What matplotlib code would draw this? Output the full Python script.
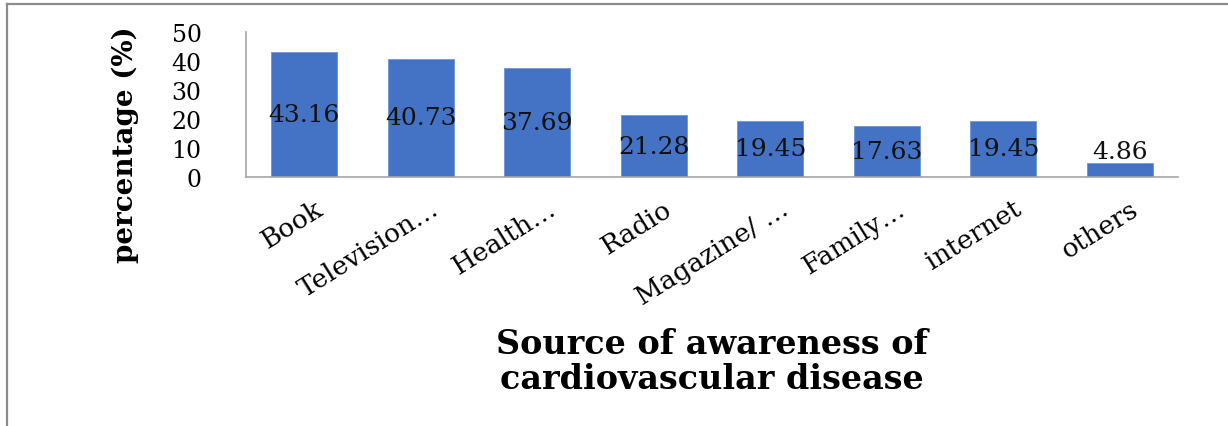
import matplotlib
matplotlib.use("Agg")
import matplotlib.pyplot as plt
import matplotlib.transforms as mtransforms
from matplotlib.lines import Line2D

categories = ["Book", "Television…", "Health…", "Radio", "Magazine/ …",
              "Family…", "internet", "others"]
values = [43.16, 40.73, 37.69, 21.28, 19.45, 17.63, 19.45, 4.86]
value_labels = ["43.16", "40.73", "37.69", "21.28", "19.45", "17.63", "19.45", "4.86"]
y_ticks = [0, 10, 20, 30, 40, 50]

FONT = "DejaVu Serif"
plt.rcParams["font.family"] = [FONT, "DejaVu Sans"]

W, H = 1228, 427
fig = plt.figure(figsize=(W / 100, H / 100), dpi=100)
ax = fig.add_axes([246 / W, 1 - 178 / H, (1178 - 246) / W, (178 - 33) / H])

x = list(range(len(categories)))
ax.bar(x, values, width=0.57, color="#4472C4", edgecolor="#6E93D6", linewidth=0.6, zorder=2)

for xi, v, lab in zip(x, values, value_labels):
    ypos = v / 2 if v > 8 else v + 4
    ax.text(xi, ypos, lab, ha="center", va="center",
            fontsize=18, color="#111111", zorder=3)

ax.set_xlim(-0.5, len(categories) - 0.5)
ax.set_ylim(0, 50)
ax.set_yticks(y_ticks)
ax.set_yticklabels([str(t) for t in y_ticks], fontsize=17)
ax.tick_params(axis="y", length=0, pad=32)
ax.set_xticks(x)
ax.set_xticklabels(categories, fontsize=19, rotation=32, ha="right",
                   rotation_mode="anchor", va="center")
ax.tick_params(axis="x", length=0, pad=21)
offset = mtransforms.ScaledTranslation(16 / 100, 0, fig.dpi_scale_trans)
for lbl in ax.get_xticklabels():
    lbl.set_transform(lbl.get_transform() + offset)

for s in ["top", "right"]:
    ax.spines[s].set_visible(False)
for s in ["left", "bottom"]:
    ax.spines[s].set_color("#A6A6A6")
    ax.spines[s].set_linewidth(1.2)

ax.set_ylabel("percentage (%)", fontsize=20, fontweight="bold")
ax.yaxis.label.set_va("center")
ax.yaxis.set_label_coords((125 - 246) / (1178 - 246), (178 - 145) / 145)

ax.set_xlabel("Source of awareness of\ncardiovascular disease", fontsize=24,
              fontweight="bold", linespacing=1.05)
ax.xaxis.label.set_va("center")
ax.xaxis.set_label_coords(0.5, (178 - 362) / 145)

# figure border (left and top visible)
fig.add_artist(Line2D([7 / W, 7 / W], [0, 1 - 5 / H], transform=fig.transFigure,
                      color="#8C8C8C", linewidth=1.6))
fig.add_artist(Line2D([7 / W, 1], [1 - 5 / H, 1 - 5 / H], transform=fig.transFigure,
                      color="#8C8C8C", linewidth=1.6))

fig.savefig("out.png", dpi=100)
